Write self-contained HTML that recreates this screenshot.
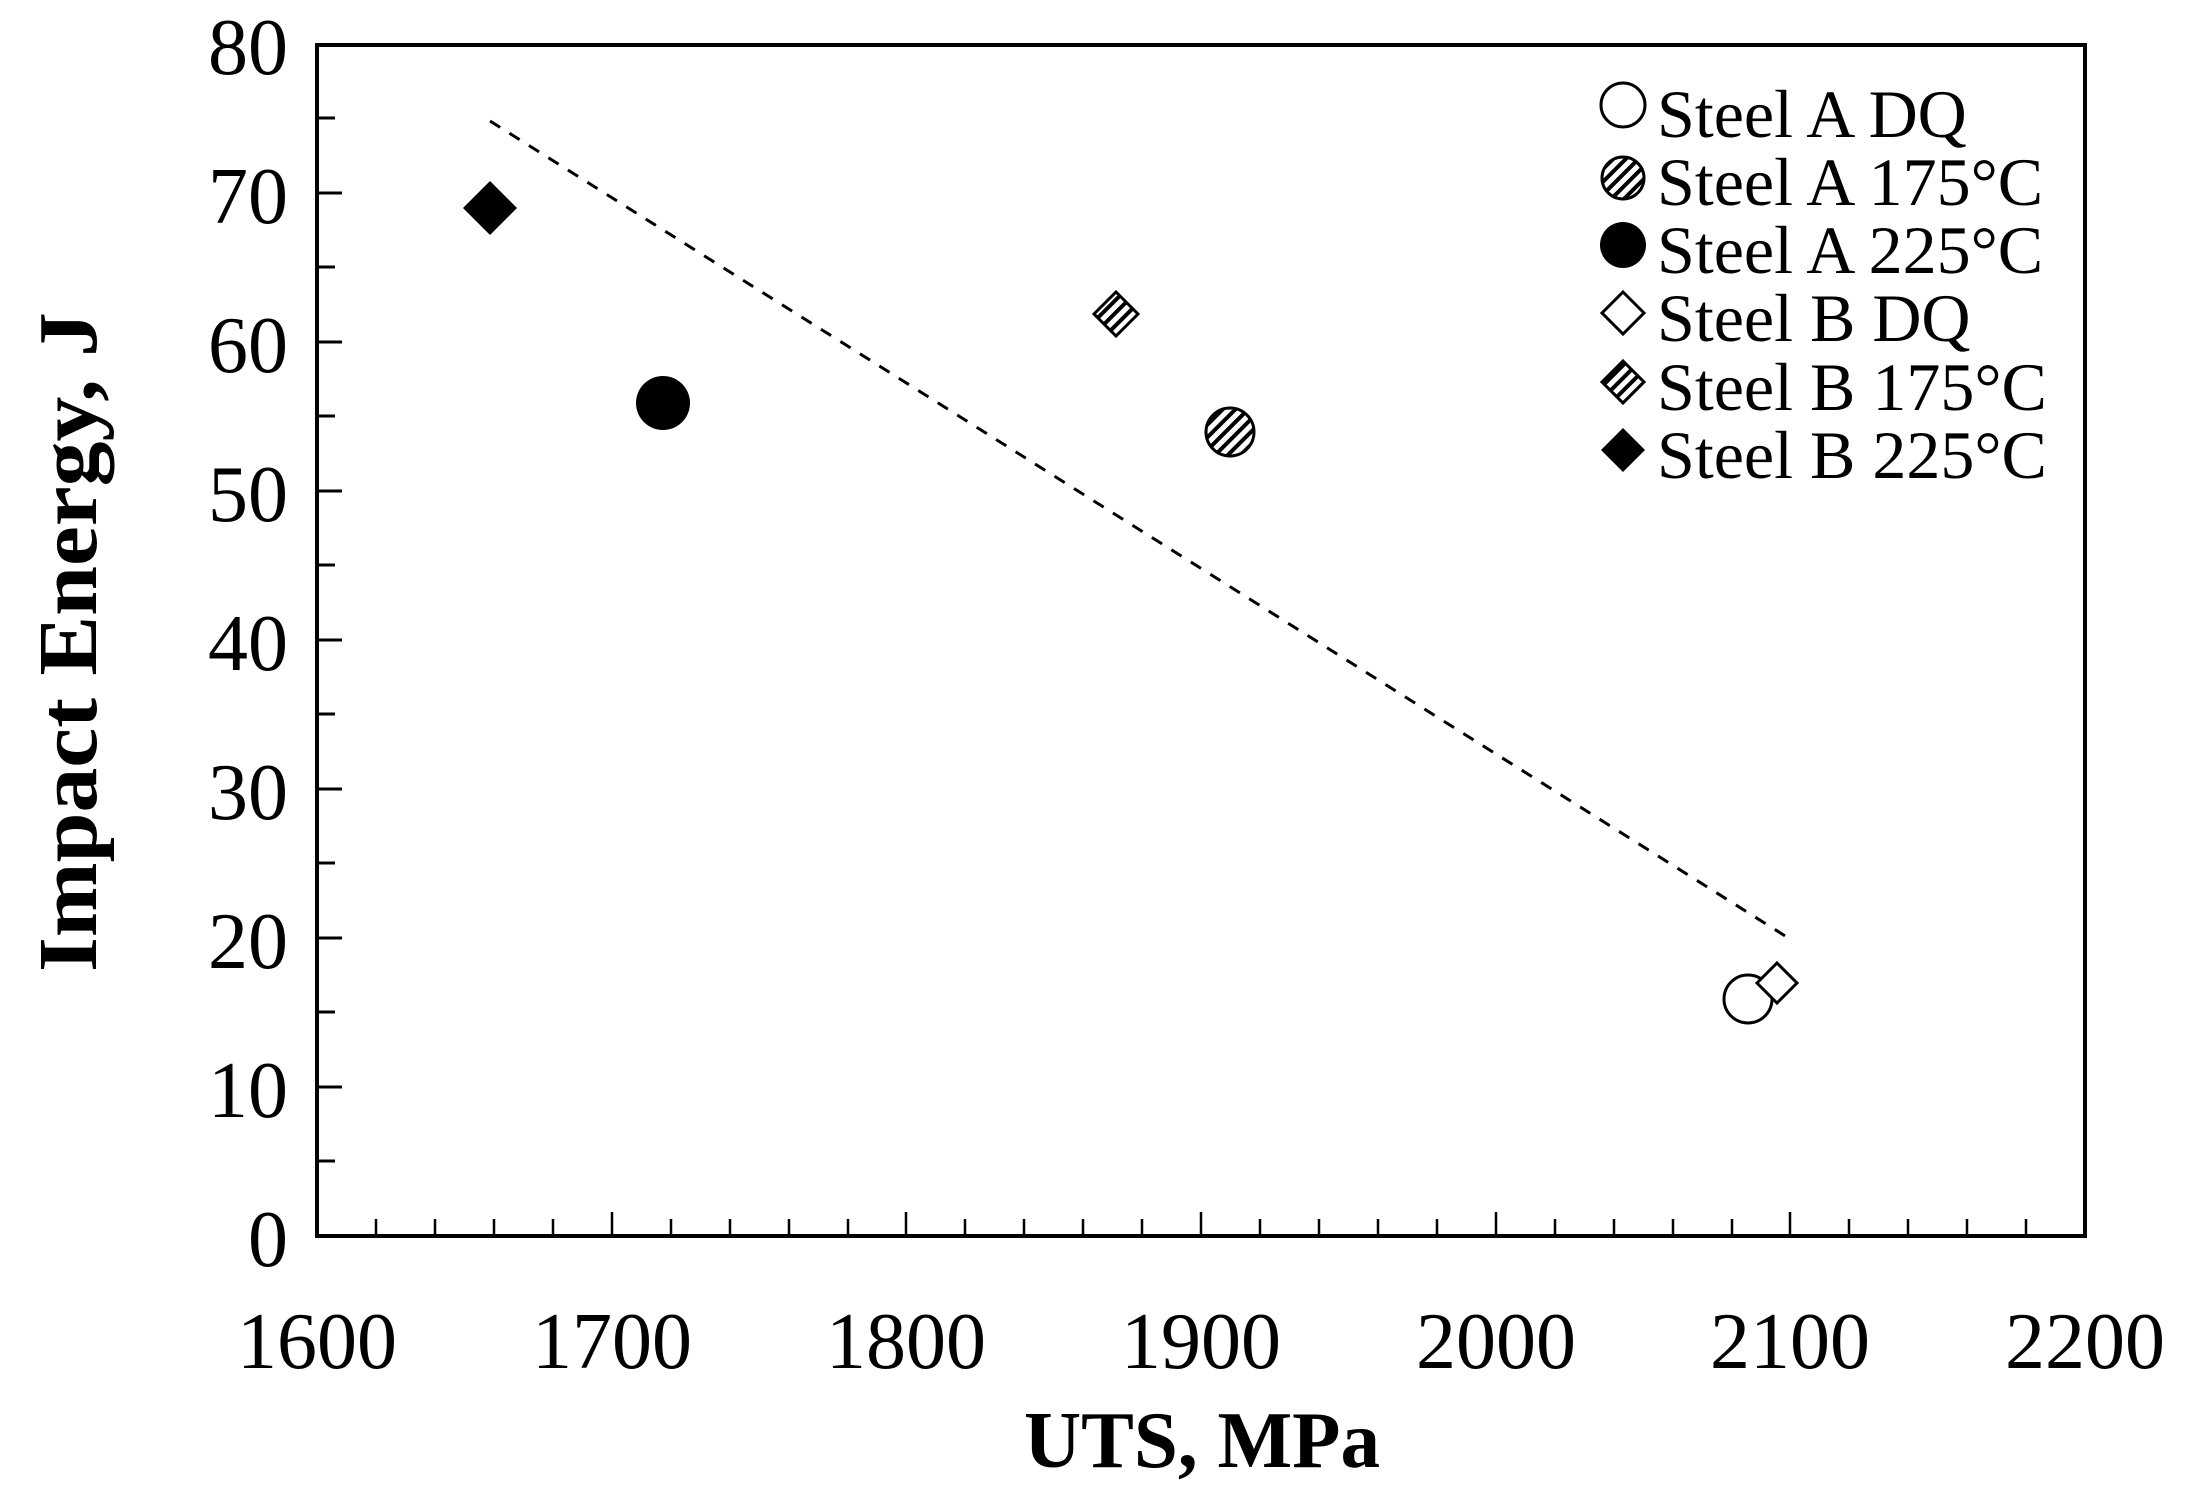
<!DOCTYPE html>
<html><head><meta charset="utf-8"><style>html,body{margin:0;padding:0;background:#fff;}svg{display:block}</style></head>
<body>
<svg width="2187" height="1502" viewBox="0 0 2187 1502" xmlns="http://www.w3.org/2000/svg" font-family="'Liberation Serif', serif">
<defs>
<pattern id="h" patternUnits="userSpaceOnUse" width="9" height="9" patternTransform="rotate(45)">
<rect width="9" height="9" fill="#fff"/><rect width="4" height="9" fill="#000"/>
</pattern>
</defs>
<rect x="317" y="45" width="1768" height="1191" fill="none" stroke="#000" stroke-width="4"/>
<g stroke="#000" stroke-width="3">
<line x1="317" y1="1161" x2="335" y2="1161"/><line x1="317" y1="1087" x2="342" y2="1087"/>
<line x1="317" y1="1012" x2="335" y2="1012"/><line x1="317" y1="938" x2="342" y2="938"/>
<line x1="317" y1="863" x2="335" y2="863"/><line x1="317" y1="789" x2="342" y2="789"/>
<line x1="317" y1="714" x2="335" y2="714"/><line x1="317" y1="640" x2="342" y2="640"/>
<line x1="317" y1="565" x2="335" y2="565"/><line x1="317" y1="491" x2="342" y2="491"/>
<line x1="317" y1="416" x2="335" y2="416"/><line x1="317" y1="342" x2="342" y2="342"/>
<line x1="317" y1="267" x2="335" y2="267"/><line x1="317" y1="193" x2="342" y2="193"/>
<line x1="317" y1="118" x2="335" y2="118"/>
</g>
<g font-size="80" text-anchor="end">
<text x="288" y="1266">0</text><text x="288" y="1117">10</text><text x="288" y="968">20</text>
<text x="288" y="819">30</text><text x="288" y="670">40</text><text x="288" y="521">50</text>
<text x="288" y="372">60</text><text x="288" y="223">70</text><text x="288" y="74">80</text>
</g>
<g font-size="80" text-anchor="middle">
<text x="317" y="1368">1600</text><text x="612" y="1368">1700</text><text x="906" y="1368">1800</text>
<text x="1201" y="1368">1900</text><text x="1496" y="1368">2000</text><text x="1790" y="1368">2100</text>
<text x="2085" y="1368">2200</text>
</g>
<text x="1202" y="1467" font-size="80" font-weight="bold" text-anchor="middle" textLength="356" lengthAdjust="spacingAndGlyphs">UTS, MPa</text>
<text transform="translate(96,642) rotate(-90)" font-size="84" font-weight="bold" text-anchor="middle" textLength="660" lengthAdjust="spacingAndGlyphs">Impact Energy, J</text>
<line x1="490" y1="121" x2="1790" y2="939" stroke="#000" stroke-width="3" stroke-dasharray="12,11"/>
<polygon points="490,181 517,208 490,235 463,208" fill="#000"/>
<circle cx="663" cy="403" r="27" fill="#000"/>
<polygon points="1116,292 1138,314 1116,336 1094,314" fill="url(#h)" stroke="#000" stroke-width="3"/>
<circle cx="1230" cy="432" r="24" fill="url(#h)" stroke="#000" stroke-width="3"/>
<circle cx="1748" cy="999" r="24" fill="#fff" stroke="#000" stroke-width="3"/>
<polygon points="1777,963 1797,983 1777,1003 1757,983" fill="#fff" stroke="#000" stroke-width="3"/>
<circle cx="1623" cy="105" r="22" fill="#fff" stroke="#000" stroke-width="3"/>
<circle cx="1623" cy="178" r="21" fill="url(#h)" stroke="#000" stroke-width="3"/>
<circle cx="1623" cy="245" r="23" fill="#000"/>
<polygon points="1623,292 1644,313 1623,334 1602,313" fill="#fff" stroke="#000" stroke-width="3"/>
<polygon points="1623,361 1644,382 1623,403 1602,382" fill="url(#h)" stroke="#000" stroke-width="3"/>
<polygon points="1623,428 1645,450 1623,472 1601,450" fill="#000"/>
<g font-size="68">
<text x="1657" y="137">Steel A DQ</text>
<text x="1657" y="205">Steel A 175°C</text>
<text x="1657" y="273">Steel A 225°C</text>
<text x="1657" y="341">Steel B DQ</text>
<text x="1657" y="410">Steel B 175°C</text>
<text x="1657" y="478">Steel B 225°C</text>
</g>
<g stroke="#000" stroke-width="2.5">
<line x1="376" y1="1236" x2="376" y2="1219"/><line x1="435" y1="1236" x2="435" y2="1219"/><line x1="494" y1="1236" x2="494" y2="1219"/><line x1="553" y1="1236" x2="553" y2="1219"/><line x1="612" y1="1236" x2="612" y2="1212"/>
<line x1="671" y1="1236" x2="671" y2="1219"/><line x1="730" y1="1236" x2="730" y2="1219"/><line x1="789" y1="1236" x2="789" y2="1219"/><line x1="848" y1="1236" x2="848" y2="1219"/><line x1="906" y1="1236" x2="906" y2="1212"/>
<line x1="965" y1="1236" x2="965" y2="1219"/><line x1="1024" y1="1236" x2="1024" y2="1219"/><line x1="1083" y1="1236" x2="1083" y2="1219"/><line x1="1142" y1="1236" x2="1142" y2="1219"/><line x1="1201" y1="1236" x2="1201" y2="1212"/>
<line x1="1260" y1="1236" x2="1260" y2="1219"/><line x1="1319" y1="1236" x2="1319" y2="1219"/><line x1="1378" y1="1236" x2="1378" y2="1219"/><line x1="1437" y1="1236" x2="1437" y2="1219"/><line x1="1496" y1="1236" x2="1496" y2="1212"/>
<line x1="1555" y1="1236" x2="1555" y2="1219"/><line x1="1614" y1="1236" x2="1614" y2="1219"/><line x1="1673" y1="1236" x2="1673" y2="1219"/><line x1="1732" y1="1236" x2="1732" y2="1219"/><line x1="1790" y1="1236" x2="1790" y2="1212"/>
<line x1="1849" y1="1236" x2="1849" y2="1219"/><line x1="1908" y1="1236" x2="1908" y2="1219"/><line x1="1967" y1="1236" x2="1967" y2="1219"/><line x1="2026" y1="1236" x2="2026" y2="1219"/>
</g>
</svg>
</body></html>
